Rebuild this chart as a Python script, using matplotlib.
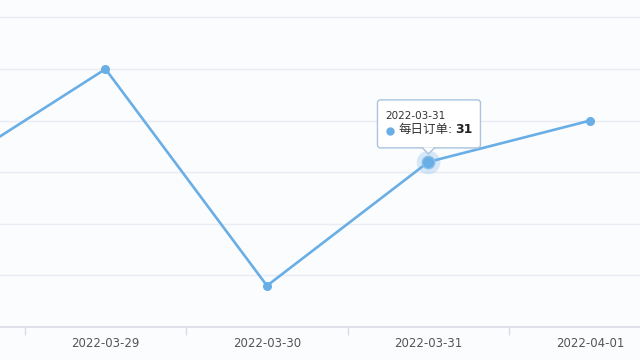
import numpy as np
import matplotlib.pyplot as plt
from matplotlib.patches import FancyBboxPatch, Polygon
from matplotlib.transforms import Affine2D

plt.rcParams['font.family'] = ['DejaVu Sans', 'Noto Sans CJK SC']

# Dados
dates = ['2022-03-28', '2022-03-29', '2022-03-30', '2022-03-31', '2022-04-01']
orders = [30, 40, 19, 31, 35]
series_name = '每日订单'
hover_idx = 3

line_color = '#6aaee6'
bg = '#fbfcfe'

fig = plt.figure(figsize=(6.4, 3.6), dpi=100, facecolor=bg)
ax = fig.add_axes([0, 33 / 360, 1, 327 / 360], facecolor=bg)

x = np.arange(len(dates))
ax.plot(x, orders, color=line_color, lw=1.9, marker='o', ms=5.5, zorder=3,
        solid_joinstyle='round')

# ponto destacado (hover)
ax.plot(x[hover_idx], orders[hover_idx], 'o', ms=17, color=line_color, alpha=0.25,
        mec='none', zorder=4)
ax.plot(x[hover_idx], orders[hover_idx], 'o', ms=9, color=line_color, mec='#8cc0ec',
        mew=1, zorder=5)

# eixos
ax.set_yticks(np.arange(15, 46, 5))
ax.yaxis.grid(True, color='#e9ecf2', lw=1)
ax.tick_params(axis='y', left=False, labelleft=False)
for s in ['left', 'right', 'top']:
    ax.spines[s].set_visible(False)
ax.spines['bottom'].set_color('#dadde6')
ax.spines['bottom'].set_linewidth(1.2)

ax.set_xticks(x)
ax.set_xticklabels(dates, fontsize=8.5, color='#555555')
ax.set_xticks(x[:-1] + 0.5, minor=True)
ax.tick_params(axis='x', which='major', length=0, pad=7)
ax.tick_params(axis='x', which='minor', length=6, color='#dadde6', width=1)
ax.set_axisbelow(True)
ax.set_xlim(0.3467, 4.31)
ax.set_ylim(15, 46.69)

# tooltip
fig.canvas.draw()
px, py = ax.transData.transform((x[hover_idx], orders[hover_idx]))
tr = Affine2D().translate(px, py)
box = FancyBboxPatch((-51, 14), 103, 48, boxstyle='round,pad=0,rounding_size=3',
                     fc='white', ec='#a9c4dc', lw=1, transform=tr, zorder=10)
fig.patches.append(box)
tri = Polygon([(-6, 14.5), (6, 14.5), (0, 8)], closed=True, fc='white', ec='none',
              transform=tr, zorder=11)
fig.patches.append(tri)
fig.lines.append(plt.Line2D([-6, 0, 6], [14, 8, 14], color='#a9c4dc', lw=1,
                            transform=tr, zorder=12))
fig.text(-43, 46, dates[hover_idx], fontsize=7.5, color='#333333', va='center',
         transform=tr, zorder=13)
fig.lines.append(plt.Line2D([-38], [31], marker='o', ms=5, color=line_color,
                            transform=tr, zorder=13))
fig.text(-30, 32, series_name + ':', fontsize=9, color='#333333', va='center',
         transform=tr, zorder=13)
fig.text(27, 32, str(orders[hover_idx]), fontsize=9, color='#222222', va='center',
         weight='bold', transform=tr, zorder=13)

fig.savefig('out.png', dpi=100, facecolor=bg)
